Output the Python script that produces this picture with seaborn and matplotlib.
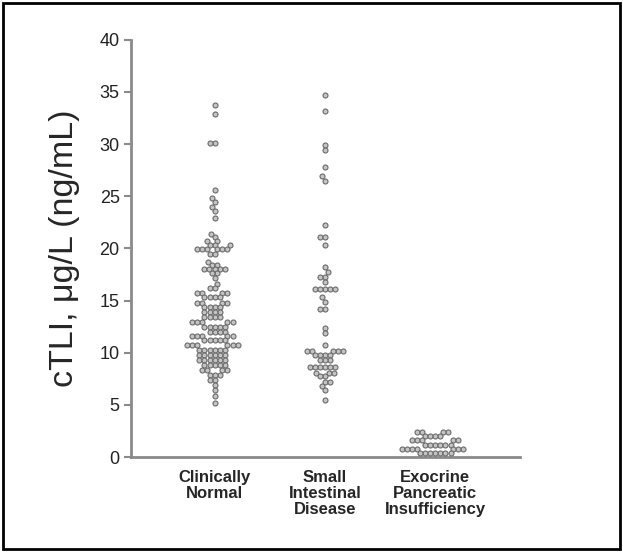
import numpy as np
import pandas as pd
import matplotlib
matplotlib.use("Agg")
import matplotlib.pyplot as plt
import seaborn as sns
from matplotlib.patches import Rectangle

# values (value, number of dots at that value)
normal_vals = [33.7, 32.9, 30.1, 25.6, 24.8, 24.4, 24.0, 23.6, 22.9, 21.4, 21.1, 20.7, 20.3, 19.9, 19.5,
               18.7, 18.4, 18.0, 17.6, 17.2, 16.6, 16.2, 15.7, 15.3, 14.8, 14.4, 13.9, 13.4, 12.9, 12.5,
               12.0, 11.6, 11.2, 10.7, 10.3, 9.8, 9.3, 8.8, 8.3, 7.9, 7.4, 6.9, 6.4, 5.9, 5.2]
normal_cnt = [1, 1, 2, 1, 1, 1, 1, 1, 1, 1, 1, 2, 3, 6, 2,
              1, 2, 5, 2, 1, 1, 2, 4, 4, 4, 4, 4, 4, 5, 5,
              4, 5, 5, 6, 6, 6, 6, 5, 4, 3, 2, 1, 1, 1, 1]

sid_vals = [34.7, 33.2, 29.9, 29.4, 27.8, 26.9, 26.5, 22.2, 21.1, 20.3, 18.2, 17.7, 17.3, 16.8, 16.1,
            15.3, 14.9, 14.2, 12.4, 11.9, 10.7, 10.2, 9.8, 9.3, 8.6, 8.1, 7.8, 7.2, 6.8, 6.4, 5.5]
sid_cnt = [1, 1, 1, 1, 1, 1, 1, 1, 2, 1, 1, 1, 2, 1, 5,
           1, 1, 2, 1, 1, 1, 5, 4, 3, 6, 3, 2, 2, 1, 1, 1]

epi_vals = [2.4, 2.0, 1.6, 1.2, 0.8, 0.4]
epi_cnt = [4, 4, 5, 6, 7, 7]

groups = ["Clinically\nNormal", "Small\nIntestinal\nDisease", "Exocrine\nPancreatic\nInsufficiency"]

df = pd.DataFrame({
    "group": [groups[0]] * sum(normal_cnt) + [groups[1]] * sum(sid_cnt) + [groups[2]] * sum(epi_cnt),
    "cTLI": np.concatenate([np.repeat(normal_vals, normal_cnt),
                            np.repeat(sid_vals, sid_cnt),
                            np.repeat(epi_vals, epi_cnt)]),
})

sns.set_style("white")
plt.rcParams['font.family'] = ['Liberation Sans', 'DejaVu Sans']

fig = plt.figure(figsize=(6.23, 5.52), dpi=100)
ax = fig.add_axes([0.21, 0.172, 0.625, 0.756])

# swarm laid out with slightly small dots so they pack tight like the original
sns.swarmplot(data=df, x="group", y="cTLI", order=groups, ax=ax, size=2.7,
              color="#c4c4c4", edgecolor="#6a6a6a", linewidth=0.8, clip_on=False)

ax.set_ylim(0, 40)
ax.set_xlim(-0.76, 2.77)
ax.set_yticks(range(0, 41, 5))
ax.set_xlabel("")
ax.set_ylabel("cTLI, μg/L (ng/mL)", fontsize=24.5, labelpad=14)

for s in ["top", "right"]:
    ax.spines[s].set_visible(False)
for s in ["left", "bottom"]:
    ax.spines[s].set_color("#8a8a8a")
    ax.spines[s].set_linewidth(2)

ax.tick_params(axis="y", length=5, width=1.5, color="#8a8a8a", labelsize=13, labelcolor="#222222", left=True, pad=3)
ax.tick_params(axis="x", length=0, pad=9)
for lbl in ax.get_xticklabels():
    lbl.set_fontweight("bold")
    lbl.set_fontsize(12)
    lbl.set_linespacing(1.1)

# run the swarm layout once, then freeze it and draw dots a bit bigger (overlapping)
fig.canvas.draw()
for c in ax.collections:
    if "draw" in c.__dict__:
        del c.draw
    c.set_sizes([3.6 ** 2])

fig.patches.append(Rectangle((0.005, 0.005), 0.99, 0.99, transform=fig.transFigure,
                             fill=False, edgecolor="black", linewidth=2))

fig.savefig("out.png", dpi=100)
